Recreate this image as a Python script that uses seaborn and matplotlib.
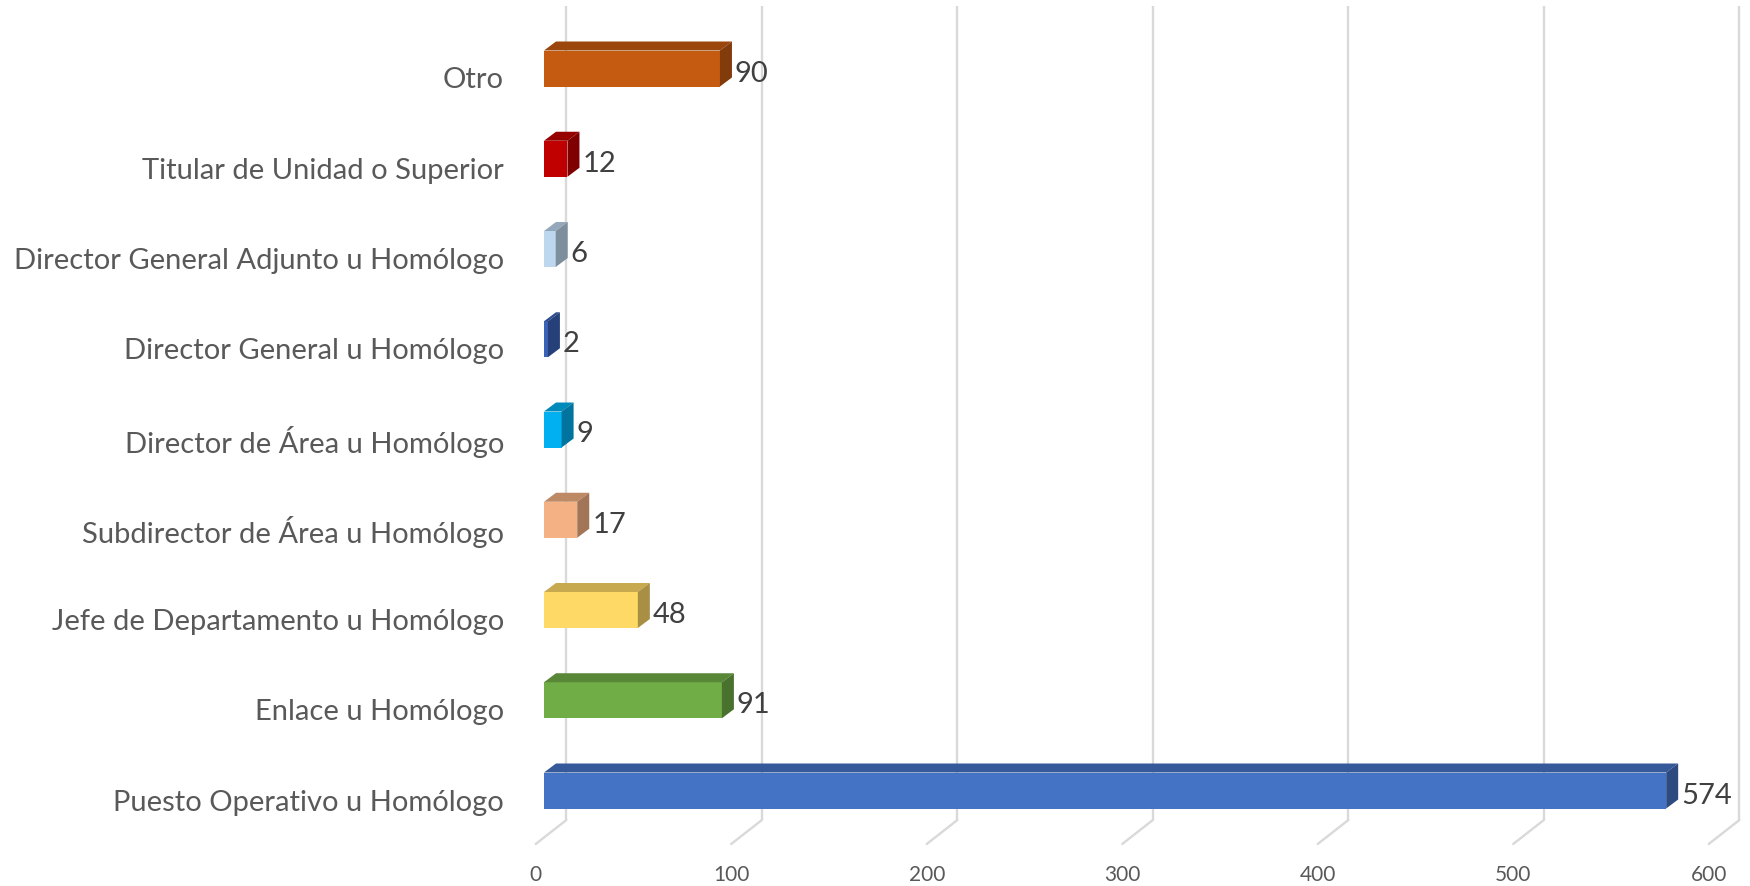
import numpy as np
import pandas as pd
import matplotlib
matplotlib.use("Agg")
import matplotlib.pyplot as plt
from matplotlib.patches import Polygon
from matplotlib.colors import to_rgb
import seaborn as sns

# Data (top to bottom, as shown)
categories = [
    "Otro",
    "Titular de Unidad o Superior",
    "Director General Adjunto u Homólogo",
    "Director General u Homólogo",
    "Director de Área u Homólogo",
    "Subdirector de Área u Homólogo",
    "Jefe de Departamento u Homólogo",
    "Enlace u Homólogo",
    "Puesto Operativo u Homólogo",
]
values = [90, 12, 6, 2, 9, 17, 48, 91, 574]
bar_colors = ["#C55A11", "#C00000", "#BDD7EE", "#3A63B8", "#00B0F0",
              "#F4B183", "#FFD966", "#70AD47", "#4472C4"]
tick_values = [0, 100, 200, 300, 400, 500, 600]

df = pd.DataFrame({"cat": categories, "val": values})

sns.set_theme(style="white")
plt.rcParams["font.family"] = ["Lato", "DejaVu Sans"]

W, H = 1750, 887
fig = plt.figure(figsize=(W / 100, H / 100), dpi=100)
ax = fig.add_axes([0, 0, 1, 1])

# pixel geometry of the fake 3D frame
x0_px = 544.0          # front of value 0
px_per_unit = 1.955
row0_px = 69.5         # centre of first bar front
row_px = 90.25         # spacing between rows
bar_h = 36 / row_px

sns.barplot(data=df, y="cat", x="val", hue="cat", palette=bar_colors,
            orient="h", width=bar_h, legend=False, ax=ax, zorder=3,
            saturation=1, linewidth=0)

ax.set_xlim(-x0_px / px_per_unit, (W - x0_px) / px_per_unit)
ax.set_ylim((H - row0_px) / row_px, -row0_px / row_px)
ax.axis("off")

def ux(px):
    return px / px_per_unit

def uy(px):
    return px / row_px

dx, dy = ux(12), uy(9)           # depth of the bars
back_dx = ux(22.4)               # back wall offset
floor_dx, floor_dy = ux(-8.3), uy(24)

grid_top = uy(7 - row0_px)
grid_bot = uy(821 - row0_px)
grid_col = "#D9D9D9"
for v in tick_values:
    xb = v + back_dx
    ax.plot([xb, xb], [grid_top, grid_bot], color=grid_col, lw=1.7, zorder=1,
            solid_capstyle="butt")
    xf = v + floor_dx
    ax.plot([xb, xf], [grid_bot, grid_bot + floor_dy], color=grid_col, lw=1.7,
            zorder=1)
    ax.text(xf, uy(875 - row0_px), str(v), ha="center", va="center",
            fontsize=15, color="#595959")

# add top and side faces to every bar
for patch, col in zip(ax.patches, bar_colors):
    x_a = patch.get_x()
    x_b = x_a + patch.get_width()
    y_top = patch.get_y()                 # smaller index = higher on screen
    y_bot = y_top + patch.get_height()
    rgb = np.array(to_rgb(col))
    top = Polygon([(x_a, y_top), (x_a + dx, y_top - dy), (x_b + dx, y_top - dy), (x_b, y_top)],
                  closed=True, facecolor=rgb * 0.78, edgecolor="none", zorder=3)
    side = Polygon([(x_b, y_top), (x_b + dx, y_top - dy), (x_b + dx, y_bot - dy), (x_b, y_bot)],
                   closed=True, facecolor=rgb * 0.66, edgecolor="none", zorder=3)
    ax.add_patch(top)
    ax.add_patch(side)

# data labels and category labels
for i, (cat, v) in enumerate(zip(categories, values)):
    ax.text(v + dx + ux(3), i + uy(4), str(v), ha="left", va="center",
            fontsize=21, color="#404040", zorder=4)
    ax.text(ux(504 - x0_px), i + uy(11), cat, ha="right", va="center",
            fontsize=21, color="#595959")

fig.savefig("out.png", dpi=100)
